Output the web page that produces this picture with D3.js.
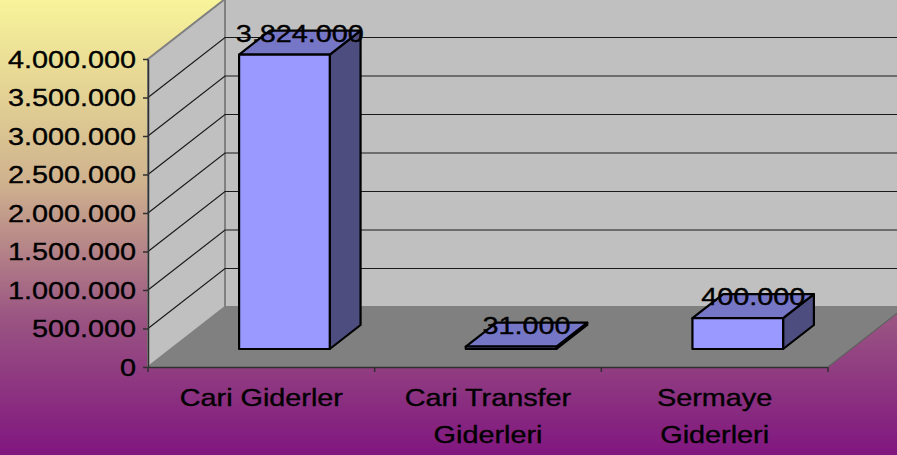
<!DOCTYPE html>
<html>
<head>
<meta charset="utf-8">
<script src="https://cdn.jsdelivr.net/npm/d3@7"></script>
<style>
  body { margin: 0; padding: 0; overflow: hidden; }
  text { font-family: "Liberation Sans", Arial, sans-serif; fill: #000; stroke: #000; stroke-width: 0.35px; }
</style>
</head>
<body>
<div id="chart"></div>
<script>
// veriler
var categories = ["Cari Giderler", "Cari Transfer\nGiderleri", "Sermaye\nGiderleri"];
var values = [3824000, 31000, 400000];
var yTicks = [0, 500000, 1000000, 1500000, 2000000, 2500000, 3000000, 3500000, 4000000];
var yMax = 4000000;

var W = 897, H = 455;
var fontSize = 24, stretch = 1.2; // Excel bild ist horizontal gestreckt

var tr = d3.formatLocale({ decimal: ",", thousands: ".", grouping: [3], currency: ["", ""] });
var fmt = tr.format(",");

var svg = d3.select("#chart")
	.append("svg")
	.attr("width", W)
	.attr("height", H);

// hintergrund verlauf
var grad = svg.append("defs").append("linearGradient")
	.attr("id", "bg")
	.attr("x1", 0).attr("y1", 0).attr("x2", 0).attr("y2", 1);
grad.append("stop").attr("offset", "0%").attr("stop-color", "#f8f49a");
grad.append("stop").attr("offset", "40%").attr("stop-color", "#cfb28e");
grad.append("stop").attr("offset", "70%").attr("stop-color", "#9a5482");
grad.append("stop").attr("offset", "100%").attr("stop-color", "#80167f");

svg.append("rect")
	.attr("width", W).attr("height", H)
	.attr("fill", "url(#bg)");

// skalen
var x = d3.scaleBand()
	.domain(categories)
	.range([148, 828]);

var y = d3.scaleLinear()
	.domain([0, yMax])
	.range([367, 59]);

// 3d tiefe
var depth = { dx: 77, dy: -60 };
function P(px, v, z) {
	return [px + z * depth.dx, y(v) + z * depth.dy];
}
function poly(pts) {
	return "M" + pts.map(function(p) { return p[0] + "," + p[1]; }).join("L") + "Z";
}

var x0 = x.range()[0], x1 = x.range()[1];

// seitenwand links
svg.append("path")
	.attr("d", poly([P(x0, 0, 0), P(x0, yMax, 0), P(x0, yMax, 1), P(x0, 0, 1)]))
	.attr("fill", "#c0c0c0")
	.attr("stroke", "#808080")
	.attr("stroke-width", 2);

// rueckwand
svg.append("path")
	.attr("d", poly([P(x0, 0, 1), P(x0, yMax, 1), P(x1, yMax, 1), P(x1, 0, 1)]))
	.attr("fill", "#c0c0c0")
	.attr("stroke", "#808080")
	.attr("stroke-width", 2);

// gitterlinien
yTicks.slice(1, -1).forEach(function(t) {
	var a = P(x0, t, 0), b = P(x0, t, 1), c = P(x1, t, 1);
	svg.append("path")
		.attr("d", "M" + a + "L" + b + "L" + c)
		.attr("fill", "none")
		.attr("stroke", "#1a1a1a")
		.attr("stroke-width", 1.2);
});

// boden
svg.append("path")
	.attr("d", poly([P(x0, 0, 0), P(x1, 0, 0), P(x1, 0, 1), P(x0, 0, 1)]))
	.attr("fill", "#808080");

// balken
var zFront = 0.3, zBack = 0.7;
var bars = svg.selectAll(".bar")
	.data(categories.map(function(c, i) { return { c: c, v: values[i] }; }))
	.enter()
	.append("g")
	.attr("class", "bar");

function barGeom(d) {
	var cx = x(d.c) + x.bandwidth() / 2;
	var w = x.bandwidth() / 2.5;
	return { l: cx - w / 2, r: cx + w / 2, cx: cx };
}

bars.append("path")
	.attr("d", function(d) {
		var g = barGeom(d);
		return poly([P(g.r, 0, zFront), P(g.r, 0, zBack), P(g.r, d.v, zBack), P(g.r, d.v, zFront)]);
	})
	.attr("fill", "#4d4d80")
	.attr("stroke", "#000").attr("stroke-width", 2.2).attr("stroke-linejoin", "round");

bars.append("path")
	.attr("d", function(d) {
		var g = barGeom(d);
		return poly([P(g.l, d.v, zFront), P(g.r, d.v, zFront), P(g.r, d.v, zBack), P(g.l, d.v, zBack)]);
	})
	.attr("fill", "#7676c6")
	.attr("stroke", "#000").attr("stroke-width", 2.2).attr("stroke-linejoin", "round");

bars.append("path")
	.attr("d", function(d) {
		var g = barGeom(d);
		return poly([P(g.l, 0, zFront), P(g.r, 0, zFront), P(g.r, d.v, zFront), P(g.l, d.v, zFront)]);
	})
	.attr("fill", "#9999ff")
	.attr("stroke", "#000").attr("stroke-width", 2.2).attr("stroke-linejoin", "round");

// Y achse
var yAxis = svg.append("g")
	.attr("transform", "translate(" + x0 + ",0)")
	.call(d3.axisLeft(y).tickValues(yTicks).tickFormat(fmt).tickSize(5).tickSizeOuter(0));
yAxis.select(".domain").attr("stroke", "#303030").attr("stroke-width", 1.5);
yAxis.selectAll(".tick line").attr("stroke", "#303030").attr("stroke-width", 1.5);
yAxis.selectAll(".tick text")
	.attr("x", -12 / stretch)
	.attr("dy", "0.35em")
	.attr("transform", "scale(" + stretch + ",1)")
	.style("font-family", "'Liberation Sans', Arial, sans-serif")
	.style("font-size", fontSize + "px")
	.attr("fill", "#000");

// X achse
var xAxis = svg.append("g")
	.attr("transform", "translate(0," + y(0) + ")")
	.call(d3.axisBottom(x).tickSize(0).tickSizeOuter(0));
xAxis.select(".domain").attr("stroke", "#303030").attr("stroke-width", 1.5);
xAxis.selectAll(".tick text").each(function(d) {
	var t = d3.select(this).text("")
		.attr("y", 0).attr("dy", null)
		.attr("transform", "scale(" + stretch + ",1)")
		.style("font-family", "'Liberation Sans', Arial, sans-serif")
		.style("font-size", fontSize + "px")
		.attr("fill", "#000");
	d.split("\n").forEach(function(line, k) {
		t.append("tspan").attr("x", 0).attr("y", 39 + k * 37).text(line);
	});
});
// teilstriche zwischen kategorien
xAxis.selectAll(".sep")
	.data(categories.concat([null]))
	.enter()
	.append("line")
	.attr("x1", function(d) { return d ? x(d) : x1; })
	.attr("x2", function(d) { return d ? x(d) : x1; })
	.attr("y1", 0).attr("y2", 5)
	.attr("stroke", "#303030").attr("stroke-width", 1.5);

// rechte bodenkante
svg.append("path")
	.attr("d", "M" + P(x1, 0, 0) + "L" + P(x1, 0, 1))
	.attr("stroke", "#606060").attr("stroke-width", 1.2);

// datenbeschriftung
bars.append("text")
	.attr("transform", function(d) {
		var g = barGeom(d);
		var p = P(g.cx, d.v, 0.5);
		return "translate(" + p[0] + "," + (p[1] - 1) + ") scale(" + stretch + ",1)";
	})
	.attr("text-anchor", "middle")
	.style("font-size", fontSize + "px")
	.text(function(d) { return fmt(d.v); });
</script>
</body>
</html>
